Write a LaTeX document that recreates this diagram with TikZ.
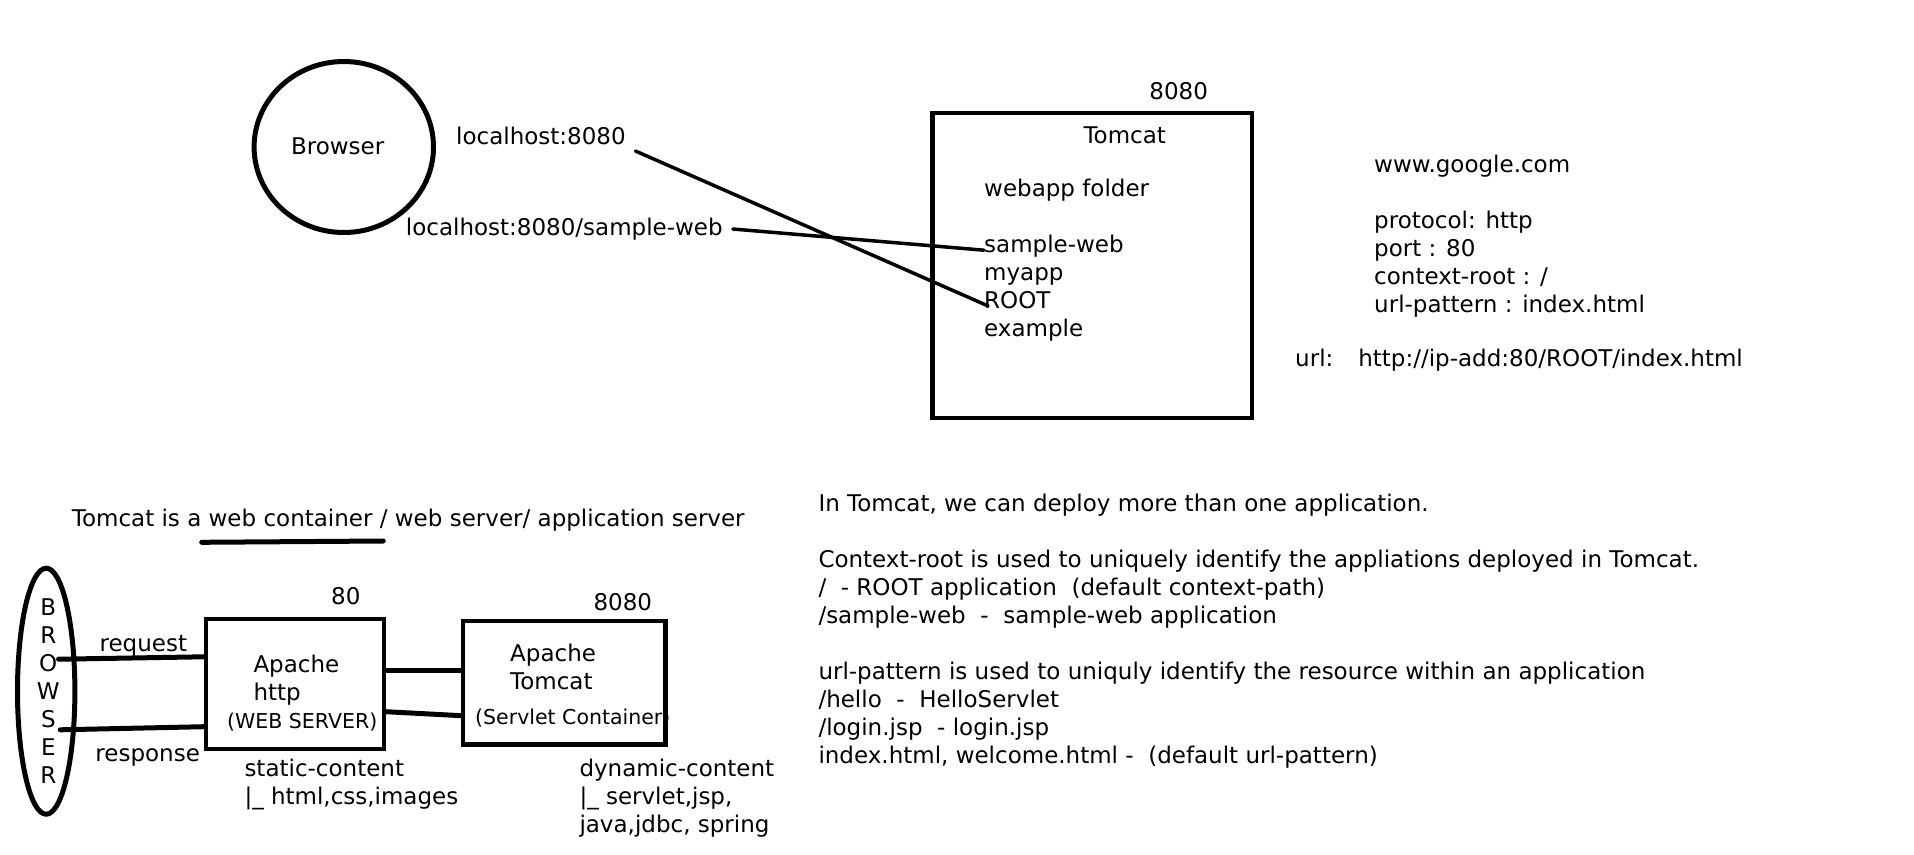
\documentclass[tikz,border=0pt]{standalone}
\usepackage{fontspec}
\setmainfont{DejaVu Sans}
\usetikzlibrary{matrix}
\usetikzlibrary{shapes.geometric}
\newcommand{\fsmain}{\fontsize{23}{28}\selectfont}
\newcommand{\fssmall}{\fontsize{20.5}{25}\selectfont}
\begin{document}
\begin{tikzpicture}[x=1pt, y=-1pt,
  txt/.style={font=\fsmain, inner sep=0pt, text height=17.5pt, text depth=5.5pt},
  sml/.style={font=\fssmall, inner sep=0pt, text height=15.6pt, text depth=4.9pt},
  lst/.style={matrix of nodes, inner sep=0pt, row sep=5pt, anchor=north west, nodes={txt, anchor=west}},
  wire/.style={line width=3.5pt, line cap=round},
  link/.style={line width=5pt, line cap=round},
  box/.style={rectangle, draw, line width=4.5pt, inner sep=0pt},
  oval/.style={ellipse, draw, line width=5pt, inner sep=0pt}]
  \useasboundingbox (0,0) rectangle (1914,854);
  %
  % browser and tomcat:
  \node [oval, minimum width=179.4pt, minimum height=171pt] (brw) at (343.8,147) {};
  \node [txt] (brwtxt) at (337.7,148) {Browser};
  \node [txt, anchor=west] (lh) at (456,138.3) {localhost:8080};
  \node [txt, anchor=west] (lhsw) at (405.7,229) {localhost:8080/sample-web};
  %
  \node [box, minimum width=319.5pt, minimum height=305pt] (tom) at (1092.25,265.5) {};
  \node [txt] (tomport) at (1178.7,93) {8080};
  \node [txt] (tomname) at (1124.7,137.3) {Tomcat};
  \node [txt, anchor=west] (wapp) at (984,190.7) {webapp folder};
  \matrix [lst] (apps) at (984,235.2) {
    sample-web \\
    myapp \\
    ROOT \\
    example \\
  };
  %
  \draw [wire] ([xshift=9.5pt, yshift=-1pt]lh.south east) -- ([xshift=4pt, yshift=-3pt]apps-3-1.west);
  \draw [wire] ([xshift=10pt]lhsw.east) -- ([yshift=-3.3pt]apps-1-1.west);
  %
  % url parts:
  \matrix [lst] (parts) at (1374,155.2) {
    www.google.com \\[28pt]
    protocol: http \\
    port : 80 \\
    context-root : / \\
    url-pattern : index.html \\
  };
  \node [txt, anchor=west] (url) at (1295,360) {url:\hspace{25pt}http://ip-add:80/ROOT/index.html};
  %
  %
  % servers:
  \node [txt, anchor=west] (title) at (71.7,520.7) {Tomcat is a web container / web server/ application server};
  \draw [link] (201.7,542.3) -- (383.3,541);
  %
  \node [oval, minimum width=57.4pt, minimum height=246pt] (brw2) at (46.2,691.2) {};
  \matrix [matrix of nodes, inner sep=0pt, row sep=5pt, nodes={txt, anchor=center}] (bw) at (48.3,693.2) {
    B \\ R \\ O \\ W \\ S \\ E \\ R \\
  };
  %
  \node [box, minimum width=177.8pt, minimum height=130pt] (http) at (294.9,683.8) {};
  \node [txt] (httpport) at (345.8,598) {80};
  \matrix [lst] (httpname) at (253.3,655.2) {
    Apache \\
    http \\
  };
  \node [sml] (ws) at (302.2,723) {(WEB SERVER)};
  %
  \node [box, minimum width=202.7pt, minimum height=123.7pt] (tc) at (564.15,682.65) {};
  \node [txt] (tcport) at (622.8,604.7) {8080};
  \matrix [lst] (tcname) at (510,644.2) {
    Apache \\
    Tomcat \\
  };
  \node [sml, anchor=west] (sc) at (475,719) {(Servlet Container)};
  %
  \node [txt] (req) at (143.3,645.7) {request};
  \node [txt] (resp) at (147.7,755.7) {response};
  \draw [link] ([xshift=1pt, yshift=6pt]bw-3-1.east) -- ([yshift=27pt]http.west);
  \draw [link] ([xshift=4.4pt, yshift=-8.6pt]bw-5-1.east) -- ([yshift=-42.9pt]http.west);
  \draw [link] ([yshift=13.1pt]http.east) -- ([yshift=11.95pt]tc.west);
  \draw [link] ([yshift=-27.9pt]http.east) -- ([yshift=-33pt]tc.west);
  %
  \matrix [lst] (static) at (244.3,759.2) {
    static-content \\
    \textbar\_ html,css,images \\
  };
  \matrix [lst] (dynamic) at (579.3,758.5) {
    dynamic-content \\
    \textbar\_ servlet,jsp, \\
    java,jdbc, spring \\
  };
  %
  % notes:
  \matrix [lst] (notes) at (818.3,494.2) {
    In Tomcat, we can deploy more than one application. \\[28pt]
    Context-root is used to uniquely identify the appliations deployed in Tomcat. \\
    /\ \ - ROOT application\ \ (default context-path) \\
    /sample-web\ \ -\ \ sample-web application \\[28pt]
    url-pattern is used to uniquly identify the resource within an application \\
    /hello\ \ -\ \ HelloServlet \\
    /login.jsp\ \ - login.jsp \\
    index.html, welcome.html -\ \ (default url-pattern) \\
  };
\end{tikzpicture}
\end{document}
